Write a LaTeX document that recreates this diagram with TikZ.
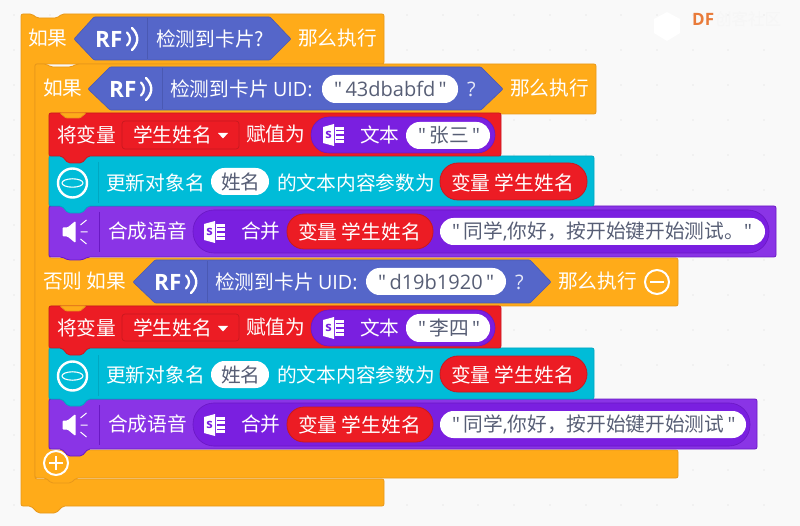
\documentclass[tikz,border=0pt]{standalone}
\usepackage{fontspec}
\setmainfont{Noto Sans CJK SC}
\newfontfamily\latinf{Open Sans}
\newcommand{\qt}{{\latinf\char34}}
\definecolor{bgc}{HTML}{F9F9F9}
\definecolor{dotc}{HTML}{E9E9E9}
\definecolor{orb}{HTML}{FFAB19}
\definecolor{orl}{HTML}{E8981A}
\definecolor{blu}{HTML}{5566C9}
\definecolor{blul}{HTML}{4A59B3}
\definecolor{redb}{HTML}{EC1C24}
\definecolor{redl}{HTML}{C8191F}
\definecolor{cyb}{HTML}{00BCD8}
\definecolor{cyl}{HTML}{00A8C2}
\definecolor{pub}{HTML}{8A34E6}
\definecolor{pud}{HTML}{7A1FE0}
\definecolor{pul}{HTML}{6A18C4}
\definecolor{gtx}{HTML}{575E75}
\definecolor{dfor}{HTML}{E97B3A}
\tikzset{
  blockshape/.style={line width=0.8pt,rounded corners=2pt},
  orangeblock/.style={blockshape,fill=orb,draw=orl},
  redblock/.style={blockshape,fill=redb,draw=redl},
  cyanblock/.style={blockshape,fill=cyb,draw=cyl},
  purpleblock/.style={blockshape,fill=pub,draw=pul},
  hexblock/.style={fill=blu,draw=blul,line width=0.6pt,rounded corners=1pt},
  sepline/.style={line width=0.7pt},
  lab/.style={anchor=west,inner sep=0pt,text=white,font=\fontsize{19.7}{22}\selectfont},
  greylab/.style={lab,text=gtx},
  pill/.style={fill=white,rounded corners=13.5pt,draw=none},
  ovalp/.style={fill=pud,draw=pul,line width=0.6pt},
  redpill/.style={fill=redb,draw=redl,line width=0.8pt},
}
% RF mark: #1 x of the R, #2 centre y
\newcommand{\rfmark}[3]{%
  \node[lab,font=\latinf\bfseries\fontsize{22.5}{24}\selectfont] (#3) at (#1-1,#2) {RF};
  \draw[white,line width=2.2pt,line cap=round] (#1+31,#2-6.5) .. controls (#1+35,#2-3) and (#1+35,#2+3) .. (#1+31,#2+6.5);
  \draw[white,line width=2.4pt,line cap=round] (#1+36,#2-11) .. controls (#1+43,#2-4) and (#1+43,#2+4) .. (#1+36,#2+11);
}
% document icon: #1 left x, #2 centre y
\newcommand{\sheetmark}[2]{%
  \fill[white] (#1,#2-8) -- (#1+11,#2-11) -- (#1+11,#2+11) -- (#1,#2+8) -- cycle;
  \fill[white] (#1+12,#2-8) rectangle (#1+21,#2+8);
  \draw[pud,line width=1.1pt] (#1+13,#2-4.5) -- (#1+21,#2-4.5) (#1+13,#2) -- (#1+21,#2) (#1+13,#2+4.5) -- (#1+21,#2+4.5);
  \node[inner sep=0pt,text=pud,font=\latinf\bfseries\fontsize{13}{13}\selectfont] at (#1+5.5,#2-0.5) {s};
}
% speaker icon: #1 left x, #2 centre y
\newcommand{\speakermark}[2]{%
  \fill[white,rounded corners=1pt] (#1,#2-4.5) -- (#1+5,#2-4.5) -- (#1+13,#2-11) -- (#1+13,#2+11) -- (#1+5,#2+4.5) -- (#1,#2+4.5) -- cycle;
  \draw[white,line width=1pt] (#1+18,#2-7) -- (#1+24,#2-12) (#1+18,#2) -- (#1+25,#2) (#1+18,#2+7) -- (#1+24,#2+12);
}
% object icon: #1 cx, #2 cy
\newcommand{\objmark}[2]{%
  \draw[white,line width=2.4pt] (#1,#2) circle (14.5);
  \draw[white,line width=1.1pt] (#1,#2) ellipse (10.5 and 4.2);
}
% tab drawn over the top of a following block: #1 left x, #2 y, #3 depth
\newcommand{\orangetab}[3]{%
  \draw[orangeblock,rounded corners=1pt] (#1,#2) -- (#1+6,#2+#3) -- (#1+20,#2+#3) -- (#1+26,#2) -- cycle;
}
\begin{document}
\begin{tikzpicture}[x=1pt,y=-1pt]
\useasboundingbox (0,0) rectangle (800,526);
\fill[bgc] (0,0) rectangle (800,526);
% grid of dots
\foreach \gx in {14,50,86,121,157,193,228,264,300,336,371,407,443,478,514,550,586,621,657,693,728,764}
  \foreach \gy in {15,50,85,120,155,190,225,260,295,330,365,400,435,470,505}
    \fill[dotc] (\gx,\gy) circle (0.8);
% watermark
\fill[white] (667,12) -- (680,19) -- (680,33) -- (667,41) -- (654,33) -- (654,19) -- cycle;
\node[inner sep=0pt,anchor=west,text=dfor,font=\latinf\bfseries\fontsize{17}{18}\selectfont] (wmdf) at (692,19.5) {DF};
\node[inner sep=0pt,anchor=west,text=white!93!gray,font=\fontsize{16.5}{18}\selectfont] (wmcn) at (715,19.5) {创客社区};

% outer C block
\draw[orangeblock] (21,14) -- (32,14) -- (37,18) -- (57,18) -- (62,14) -- (384,14) -- (384,64) -- (35,64) -- (35,479) -- (384,479) -- (384,506) -- (63,506) -- (56,513) -- (38,513) -- (31,506) -- (21,506) -- cycle;
% inner C block
\draw[orangeblock] (35,64) -- (46,64) -- (51,67) -- (71,67) -- (77,64) -- (596,64) -- (596,114) -- (49,114) -- (49,258) -- (678,258) -- (678,306) -- (49,306) -- (49,450) -- (678,450) -- (678,478) -- (76,478) -- (71,483) -- (51,483) -- (46,478) -- (35,478) -- cycle;

% first group: purple, cyan, red so that each tab lies on the next block
\draw[purpleblock] (49,206) -- (776,206) -- (776,257) -- (88,257) -- (82,260) -- (68,260) -- (62,257) -- (49,257) -- cycle;
\draw[cyanblock] (49,156) -- (594,156) -- (594,206) -- (88,206) -- (82,213) -- (68,213) -- (62,206) -- (49,206) -- cycle;
\draw[redblock] (49,113) -- (501,113) -- (501,156) -- (88,156) -- (82,163) -- (68,163) -- (62,156) -- (49,156) -- cycle;
\orangetab{60}{113}{5}
% second group
\draw[purpleblock] (49,399) -- (757,399) -- (757,449) -- (88,449) -- (82,456) -- (68,456) -- (62,449) -- (49,449) -- cycle;
\draw[cyanblock] (49,348) -- (594,348) -- (594,399) -- (88,399) -- (82,406) -- (68,406) -- (62,399) -- (49,399) -- cycle;
\draw[redblock] (49,306) -- (501,306) -- (501,348) -- (88,348) -- (82,355) -- (68,355) -- (62,348) -- (49,348) -- cycle;
\orangetab{60}{306}{5}

% row 1
\node[lab] (ifa) at (28,38.5) {如果};
\draw[hexblock] (74,39) -- (94,17) -- (270,17) -- (291,39) -- (270,60) -- (94,60) -- cycle;
\draw[blul,sepline] (147,18) -- (147,59);
\rfmark{96}{39}{rfa}
\node[lab] (deta) at (156,38.5) {检测到卡片?};
\node[lab] (thena) at (298,38.5) {那么执行};

% row 2
\node[lab] (ifb) at (43,88.5) {如果};
\draw[hexblock] (88,89) -- (110,67) -- (481,67) -- (503,89) -- (481,110) -- (110,110) -- cycle;
\draw[blul,sepline] (162,68) -- (162,109);
\rfmark{110}{89}{rfb}
\node[lab] (detb) at (170,88.5) {检测到卡片 {\latinf UID:}};
\fill[pill] (322,75) rectangle (458,103);
\node[greylab,font=\latinf\fontsize{20}{22}\selectfont] (uidb) at (334,89) {\char34\,43dbabfd\,\char34};
\node[lab,text=white!85!blu,font=\latinf\fontsize{20}{22}\selectfont] (qb) at (467,89) {?};
\node[lab] (thenb) at (510,88.5) {那么执行};

% red 1
\node[lab] (seta) at (57,134.5) {将变量};
\draw[fill=redb,draw=redl,line width=0.7pt,rounded corners=3pt] (122,121) rectangle (239,149);
\node[lab] (vara) at (133,134.5) {学生姓名};
\fill[white] (218,133) -- (228,133) -- (223,138.5) -- cycle;
\node[lab] (asga) at (246,134.5) {赋值为};
\draw[ovalp,rounded corners=18pt] (311,117) rectangle (495,153);
\sheetmark{323}{135}
\node[lab] (txta) at (360,134.5) {文本};
\fill[pill] (406,122) rectangle (490,149);
\node[greylab] (vala) at (418,135) {\qt\,张三\,\qt};

% cyan 1
\objmark{72.5}{183}
\draw[cyl,sepline] (98,162) -- (98,203);
\node[lab] (upa) at (106,182.5) {更新对象名};
\fill[pill] (211,168) rectangle (269,195);
\node[greylab] (obja) at (221,182) {姓名};
\node[lab] (contenta) at (277,182.5) {的文本内容参数为};
\draw[redpill,rounded corners=18pt] (440,163) rectangle (587,200);
\node[lab] (vgeta) at (451,182.5) {变量 学生姓名};

% purple 1
\speakermark{62.5}{232}
\draw[pul,sepline] (99,212) -- (99,252);
\node[lab] (saylab) at (108,231.5) {合成语音};
\draw[ovalp,rounded corners=21pt] (193,210) rectangle (769,253);
\sheetmark{204}{232}
\node[lab] (joina) at (241,231.5) {合并};
\draw[redpill,rounded corners=17pt] (287,214) rectangle (433,249);
\node[lab] (vgetb) at (298,231.5) {变量 学生姓名};
\fill[pill] (440,218) rectangle (765,245);
\node[greylab] (saya) at (452,231.5) {\qt\,同学{\latinf,}你好，按开始键开始测试。\qt};

% else row
\node[lab] (elif) at (43,281.5) {否则 如果};
\draw[hexblock] (133,282) -- (155,260) -- (530,260) -- (551,282) -- (530,303) -- (155,303) -- cycle;
\draw[blul,sepline] (207,261) -- (207,302);
\rfmark{155}{282}{rfc}
\node[lab] (detc) at (215,281.5) {检测到卡片 {\latinf UID:}};
\fill[pill] (366,268) rectangle (506,295);
\node[greylab,font=\latinf\fontsize{20}{22}\selectfont] (uidc) at (378,282) {\char34\,d19b1920\,\char34};
\node[lab,text=white!85!blu,font=\latinf\fontsize{20}{22}\selectfont] (qc) at (515,282) {?};
\node[lab] (thenc) at (558,281.5) {那么执行};
\node[circle,draw=white,line width=2pt,minimum size=24pt,inner sep=0pt] (minus) at (657,282) {};
\draw[white,line width=2.6pt] (650,282) -- (664,282);

% red 2
\node[lab] (setb) at (57,327.5) {将变量};
\draw[fill=redb,draw=redl,line width=0.7pt,rounded corners=3pt] (122,314) rectangle (239,341);
\node[lab] (varb) at (133,327.5) {学生姓名};
\fill[white] (218,326) -- (228,326) -- (223,331.5) -- cycle;
\node[lab] (asgb) at (246,327.5) {赋值为};
\draw[ovalp,rounded corners=18pt] (311,310) rectangle (495,346);
\sheetmark{323}{328}
\node[lab] (txtb) at (360,327.5) {文本};
\fill[pill] (406,314) rectangle (490,342);
\node[greylab] (valb) at (418,328) {\qt\,李四\,\qt};

% cyan 2
\objmark{72.5}{376}
\draw[cyl,sepline] (98,355) -- (98,396);
\node[lab] (upb) at (106,374.5) {更新对象名};
\fill[pill] (211,361) rectangle (269,388);
\node[greylab] (objb) at (221,374.5) {姓名};
\node[lab] (contentb) at (277,374.5) {的文本内容参数为};
\draw[redpill,rounded corners=18pt] (440,356) rectangle (587,392);
\node[lab] (vgetc) at (451,374.5) {变量 学生姓名};

% purple 2
\speakermark{62.5}{425}
\draw[pul,sepline] (99,405) -- (99,445);
\node[lab] (sayb) at (108,424.5) {合成语音};
\draw[ovalp,rounded corners=21pt] (193,403) rectangle (750,446);
\sheetmark{204}{425}
\node[lab] (joinb) at (241,424.5) {合并};
\draw[redpill,rounded corners=17pt] (287,407) rectangle (433,442);
\node[lab] (vgetd) at (298,424.5) {变量 学生姓名};
\fill[pill] (440,411) rectangle (746,438);
\node[greylab] (saybt) at (452,424.5) {\qt\,同学{\latinf,}你好，按开始键开始测试\,\qt};

% plus
\node[circle,draw=white,line width=2pt,minimum size=24pt,inner sep=0pt] (plus) at (56,463) {};
\draw[white,line width=2.6pt] (49,463) -- (63,463) (56,456) -- (56,470);
\end{tikzpicture}
\end{document}
